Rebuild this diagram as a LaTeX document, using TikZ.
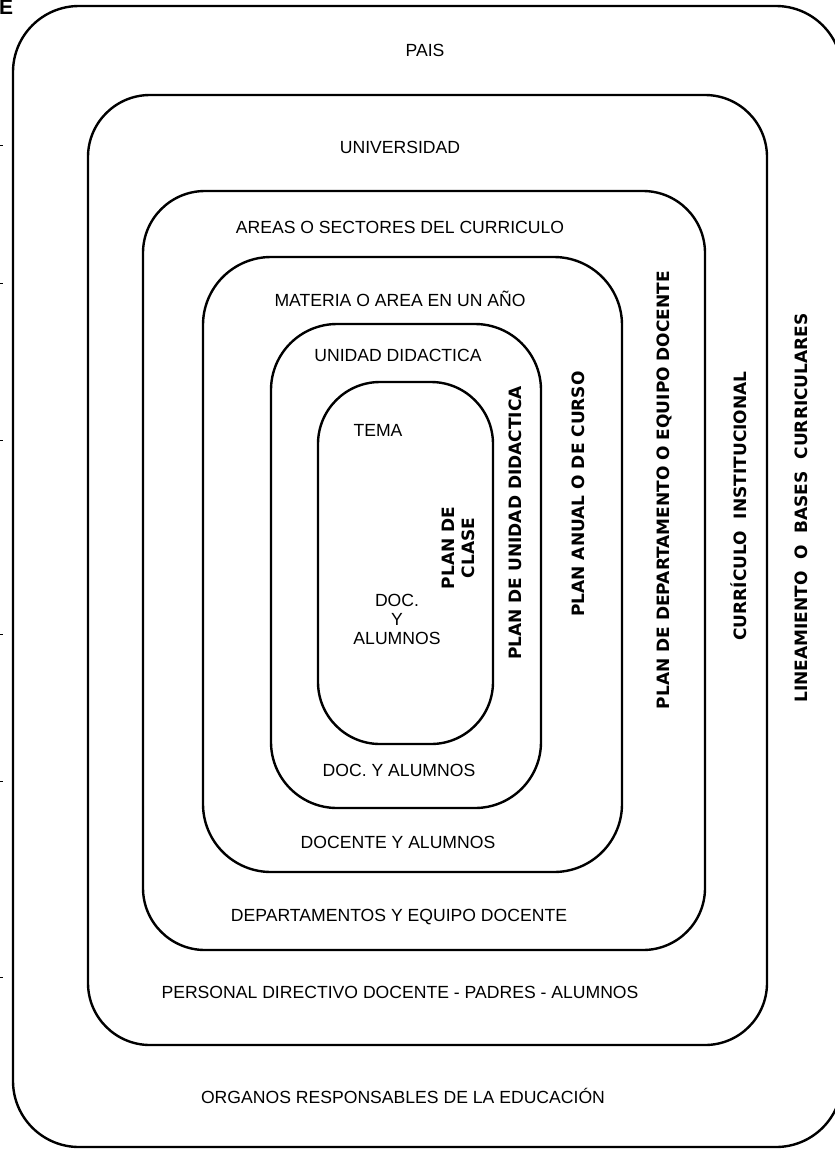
\documentclass[tikz,border=0pt]{standalone}
\usepackage{fontspec}
\setmainfont{Liberation Sans}
\newfontfamily\blockfont{DejaVu Sans}
\begin{document}
\begin{tikzpicture}[x=1pt, y=-1pt,
  ring/.style={draw=black, line width=2.4pt, rounded corners=#1},
  ring/.default=62pt,
  lbl/.style={font=\fontsize{17.6}{19}\selectfont, inner sep=0pt, anchor=base, align=center},
  vlbl/.style={font=\blockfont\bfseries\fontsize{17}{20}\selectfont, rotate=90, inner sep=0pt, align=center},
  tick/.style={draw=black, line width=0.8pt}]
\useasboundingbox (0,0) rectangle (835,1149);
% nested levels
\draw[ring=66pt] (13,6) rectangle (842,1147);
\draw[ring=62pt] (88,95) rectangle (767,1045);
\draw[ring=62pt] (143,191) rectangle (705,950);
\draw[ring=68pt] (203,257) rectangle (622,872);
\draw[ring=66pt] (271,324) rectangle (541,808);
\draw[ring=62pt] (318,382) rectangle (493,744);
% level names
\node[lbl] (pais) at (425,56) {PAIS};
\node[lbl] (univ) at (400,153) {UNIVERSIDAD};
\node[lbl] (areas) at (400,233) {AREAS O SECTORES DEL CURRICULO};
\node[lbl] (materia) at (400,306) {MATERIA O AREA EN UN AÑO};
\node[lbl] (unidad) at (398,361) {UNIDAD DIDACTICA};
\node[lbl] (tema) at (378,436) {TEMA};
\node[lbl] (docA) at (397,644) {DOC.\\Y\\ALUMNOS};
\node[lbl] (docB) at (399,776) {DOC. Y ALUMNOS};
\node[lbl] (docente) at (398,848) {DOCENTE Y ALUMNOS};
\node[lbl] (deptos) at (399,921) {DEPARTAMENTOS Y EQUIPO DOCENTE};
\node[lbl] (personal) at (400,998) {PERSONAL DIRECTIVO DOCENTE - PADRES - ALUMNOS};
\node[lbl] (organos) at (403,1103) {ORGANOS RESPONSABLES DE LA EDUCACIÓN};
% plans
\node[vlbl] (clase) at (458,548) {PLAN DE\\CLASE};
\node[vlbl] (planUnidad) at (515,523) {PLAN DE UNIDAD DIDACTICA};
\node[vlbl] (planAnual) at (578,494) {PLAN ANUAL O DE CURSO};
\node[vlbl] (planDepto) at (664,490) {PLAN DE DEPARTAMENTO O EQUIPO DOCENTE};
\node[vlbl] (curriculo) at (739,506) {CURRÍCULO\ \ INSTITUCIONAL};
\node[vlbl] (lineamiento) at (801,508) {LINEAMIENTO\ \ O\ \ BASES\ \ CURRICULARES};
% margin
\node[font=\bfseries\fontsize{21}{23}\selectfont, anchor=north west, inner sep=0pt] (corte) at (-1,0) {E};
\foreach \ty in {145,283,440,634,781,977}
  \draw[tick] (0,\ty) -- (3,\ty);
\end{tikzpicture}
\end{document}
